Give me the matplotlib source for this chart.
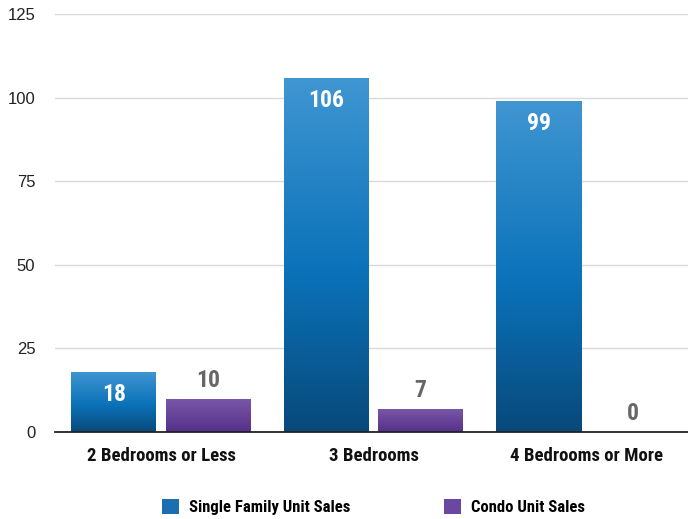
import matplotlib
matplotlib.use("Agg")
import matplotlib.pyplot as plt
import numpy as np
from matplotlib.colors import LinearSegmentedColormap
from matplotlib.patches import Patch
from matplotlib import font_manager

categories = ["2 Bedrooms or Less", "3 Bedrooms", "4 Bedrooms or More"]
single_family = [18, 106, 99]
condo = [10, 7, 0]
series_names = ["Single Family Unit Sales", "Condo Unit Sales"]
yticks = [0, 25, 50, 75, 100, 125]

names = {f.name for f in font_manager.fontManager.ttflist}
cond = "Roboto Condensed" if "Roboto Condensed" in names else "Roboto"
bold_family = [cond, "DejaVu Sans"]
tick_family = ["Liberation Sans", "DejaVu Sans"]

blue_cmap = LinearSegmentedColormap.from_list(
    "b", [(0.0, "#08497a"), (0.45, "#0b72b9"), (1.0, "#4096d2")])
purple_cmap = LinearSegmentedColormap.from_list(
    "p", [(0.0, "#55308a"), (1.0, "#7a58a8")])

fig = plt.figure(figsize=(6.88, 5.19), dpi=100)
ax = fig.add_axes([54.75/688, 1 - 432/519, 637.5/688, 418/519])

x = np.arange(len(categories))
w = 0.40
off = 0.222

grad = np.linspace(0, 1, 256).reshape(-1, 1)

def grad_bars(xs, vals, cmap):
    bars = ax.bar(xs, vals, width=w, color="none", zorder=2)
    for b in bars:
        if b.get_height() <= 0:
            continue
        x0, y0 = b.get_x(), b.get_y()
        im = ax.imshow(grad, cmap=cmap, origin="lower", aspect="auto",
                       extent=(x0, x0 + b.get_width(), y0, y0 + b.get_height()),
                       zorder=2, interpolation="bilinear")
        im.set_clip_path(b)
    return bars

b1 = grad_bars(x - off, single_family, blue_cmap)
b2 = grad_bars(x + off, condo, purple_cmap)
ax.set_xlim(-0.5, 2.5)
ax.set_ylim(0, 125)

for xi, v in zip(x - off, single_family):
    ax.annotate(str(v), (xi, v), xytext=(0, -8), textcoords="offset points",
                ha="center", va="top", color="white", fontsize=17,
                fontweight="bold", family=bold_family, zorder=4)
for xi, v in zip(x + off, condo):
    ax.annotate(str(v), (xi, v), xytext=(0, 5), textcoords="offset points",
                ha="center", va="bottom", color="#666666", fontsize=17,
                fontweight="bold", family=bold_family, zorder=4)

ax.set_yticks(yticks)
ax.set_yticklabels([str(t) for t in yticks], family=tick_family, fontsize=12,
                   color="#222222")
ax.set_xticks(x)
ax.set_xticklabels(categories, family=bold_family, fontweight="bold",
                   fontsize=13.5, color="#111111")
ax.tick_params(axis="y", length=0, pad=14)
ax.tick_params(axis="x", length=0, pad=11)
ax.grid(axis="y", color="#d9d9d9", linewidth=1)
ax.set_axisbelow(True)
for s in ["top", "right", "left"]:
    ax.spines[s].set_visible(False)
ax.spines["bottom"].set_color("#222222")
ax.spines["bottom"].set_linewidth(1.3)
ax.spines["bottom"].set_zorder(5)

handles = [Patch(facecolor="#1b6fb0", edgecolor="none"),
           Patch(facecolor="#6a47a0", edgecolor="none")]
fig.legend(handles, series_names, loc="center", bbox_to_anchor=(0.543, 1 - 507/519),
           ncol=2, frameon=False, columnspacing=5.6, handlelength=1.02,
           handleheight=1.02, handletextpad=0.6,
           prop={"family": bold_family, "weight": "bold", "size": 12})

fig.savefig("out.png", dpi=100)
